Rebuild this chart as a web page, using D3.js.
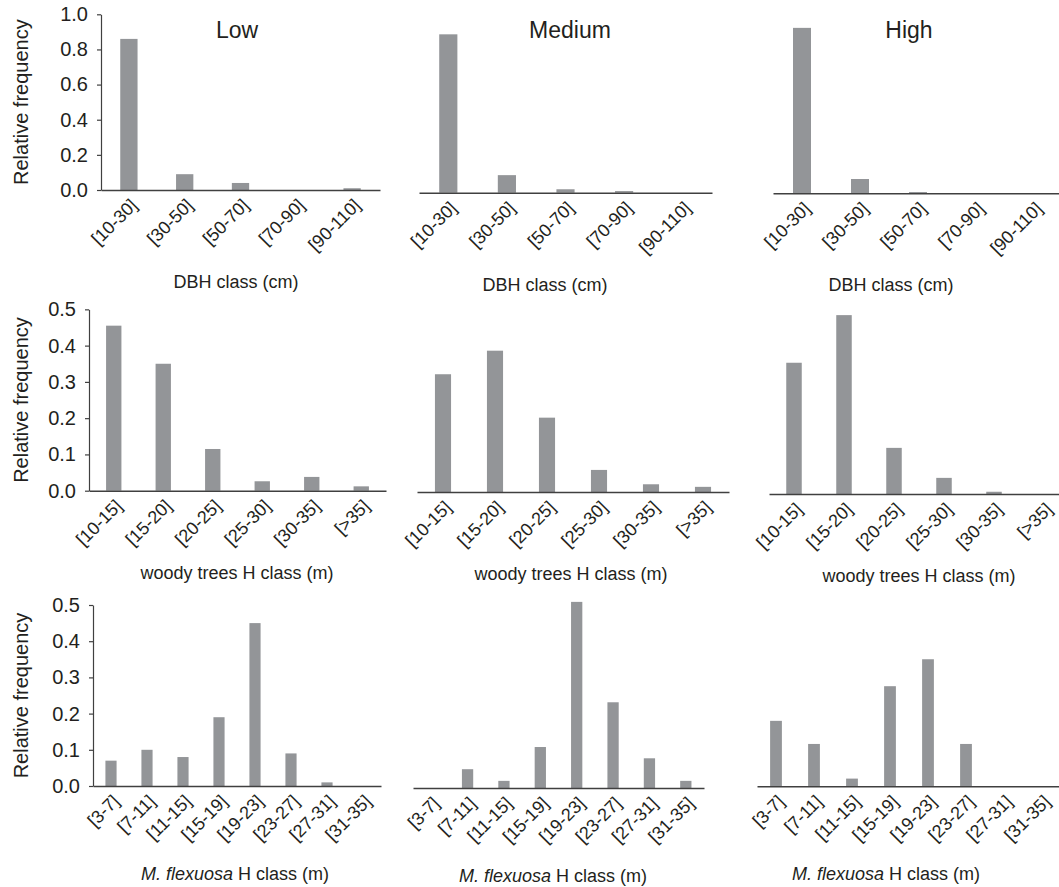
<!DOCTYPE html>
<html>
<head>
<meta charset="utf-8">
<script src="https://cdn.jsdelivr.net/npm/d3@7"></script>
<style>
  body { margin: 0; background: #fff; }
  svg text { font-family: "Liberation Sans", Arial, sans-serif; fill: #231f20; }
</style>
</head>
<body>
<div id="chart"></div>
<script>
// categories
var dbhClasses = ["[10-30]", "[30-50]", "[50-70]", "[70-90]", "[90-110]"];
var woodyClasses = ["[10-15]", "[15-20]", "[20-25]", "[25-30]", "[30-35]", "[>35]"];
var flexClasses = ["[3-7]", "[7-11]", "[11-15]", "[15-19]", "[19-23]", "[23-27]", "[27-31]", "[31-35]"];

// relative frequencies per density level
var dbhLow = [0.86, 0.09, 0.04, 0, 0.01];
var dbhMedium = [0.875, 0.097, 0.019, 0.009, 0];
var dbhHigh = [0.914, 0.079, 0.007, 0, 0];

var woodyLow = [0.455, 0.35, 0.115, 0.026, 0.038, 0.012];
var woodyMedium = [0.32, 0.384, 0.202, 0.06, 0.021, 0.014];
var woodyHigh = [0.35, 0.477, 0.123, 0.043, 0.006, 0];

var flexLow = [0.07, 0.10, 0.08, 0.19, 0.45, 0.09, 0.01, 0];
var flexMedium = [0, 0.05, 0.019, 0.109, 0.495, 0.228, 0.079, 0.019];
var flexHigh = [0.17, 0.11, 0.02, 0.26, 0.33, 0.11, 0, 0];

// tick labels
var ticksRow1 = [0, 0.2, 0.4, 0.6, 0.8, 1.0];
var ticksRow2 = [0, 0.1, 0.2, 0.3, 0.4, 0.5];

var titles = ["Low", "Medium", "High"];

var svg1 = d3.select("#chart").append("svg").attr("width", 1059).attr("height", 887);

// layout of each panel: x range, baseline, pixels per unit, title spots
var panels = [
  {cats: dbhClasses, vals: dbhLow, x0: 101, x1: 380, base: 190, ppu: 175.7, yTicks: ticksRow1, title: 0, hx: 237, xTitle: "DBH class (cm)", tx: 236, tOff: 98},
  {cats: dbhClasses, vals: dbhMedium, x0: 419, x1: 712, base: 192.7, ppu: 181, title: 1, hx: 570, xTitle: "DBH class (cm)", tx: 545, tOff: 98},
  {cats: dbhClasses, vals: dbhHigh, x0: 773, x1: 1063, base: 193.3, ppu: 181, title: 2, hx: 909, xTitle: "DBH class (cm)", tx: 891, tOff: 98},
  {cats: woodyClasses, vals: woodyLow, x0: 89, x1: 386, base: 490.7, ppu: 362.7, yTicks: ticksRow2, xTitle: "woody", tx: 237, tOff: 88},
  {cats: woodyClasses, vals: woodyMedium, x0: 417, x1: 729, base: 492, ppu: 368, xTitle: "woody", tx: 571, tOff: 88},
  {cats: woodyClasses, vals: woodyHigh, x0: 769, x1: 1069, base: 494, ppu: 375, xTitle: "woody", tx: 919, tOff: 88},
  {cats: flexClasses, vals: flexLow, x0: 93, x1: 381, base: 786, ppu: 362, yTicks: ticksRow2, xTitle: "flex", tx: 235, tOff: 94},
  {cats: flexClasses, vals: flexMedium, x0: 413, x1: 704, base: 788, ppu: 376, xTitle: "flex", tx: 553, tOff: 94},
  {cats: flexClasses, vals: flexHigh, x0: 757, x1: 1061, base: 786.3, ppu: 385, xTitle: "flex", tx: 886, tOff: 94}
];

panels.forEach(function(p){
  var g = svg1.append("g");
  var xScale = d3.scaleBand().domain(p.cats).range([p.x0, p.x1])
    .paddingInner(0.69).paddingOuter(0.345);
  var yMax = p.yTicks ? d3.max(p.yTicks) : 1;
  var yScale = d3.scaleLinear().domain([0, yMax]).range([p.base, p.base - p.ppu * yMax]);

  g.selectAll(".bar").data(p.vals).enter().append("rect")
    .attr("class", "bar")
    .attr("x", function(d, i){ return xScale(p.cats[i]); })
    .attr("width", xScale.bandwidth())
    .attr("y", function(d){ return yScale(d); })
    .attr("height", function(d){ return p.base - yScale(d); })
    .attr("fill", "#939598");

  // x axis: line only, labels drawn rotated below
  var xAxis = g.append("g").attr("transform", "translate(0," + p.base + ")")
    .call(d3.axisBottom(xScale).tickSize(0).tickSizeOuter(0).tickFormat(""));
  xAxis.select(".domain").attr("stroke", "#404040").attr("stroke-width", 1.5);

  g.selectAll(".cat").data(p.cats).enter().append("text")
    .attr("class", "cat")
    .attr("font-size", 18)
    .attr("text-anchor", "end")
    .attr("dy", "0.35em")
    .attr("transform", function(d){
      var cx = xScale(d) + xScale.bandwidth() / 2;
      return "translate(" + (cx + 5) + "," + (p.base + 12) + ") rotate(-45)";
    })
    .text(function(d){ return d; });

  if (p.yTicks) {
    var yAxis = g.append("g").attr("transform", "translate(" + p.x0 + ",0)")
      .call(d3.axisLeft(yScale).tickValues(p.yTicks).tickFormat(d3.format(".1f"))
        .tickSize(4).tickSizeOuter(0).tickPadding(9));
    yAxis.select(".domain").attr("stroke", "#404040").attr("stroke-width", 1.2);
    yAxis.selectAll(".tick line").attr("stroke", "#404040").attr("stroke-width", 1.2);
    yAxis.selectAll("text").attr("font-size", 20);

    svg1.append("text")
      .attr("transform", "translate(22," + (p.base - p.ppu * yMax / 2) + ") rotate(-90)")
      .attr("text-anchor", "middle").attr("dy", "0.32em")
      .attr("font-size", 20)
      .text("Relative frequency");
  }

  var label = svg1.append("text")
    .attr("x", p.tx).attr("y", p.base + p.tOff)
    .attr("text-anchor", "middle").attr("font-size", 18);
  if (p.xTitle == "woody") {
    label.text("woody trees H class (m)");
  } else if (p.xTitle == "flex") {
    label.append("tspan").attr("font-style", "italic").text("M. flexuosa");
    label.append("tspan").text(" H class (m)");
  } else {
    label.text(p.xTitle);
  }

  if (p.title !== undefined) {
    svg1.append("text")
      .attr("x", p.hx).attr("y", 38)
      .attr("text-anchor", "middle").attr("font-size", 23)
      .text(titles[p.title]);
  }
});
</script>
</body>
</html>
